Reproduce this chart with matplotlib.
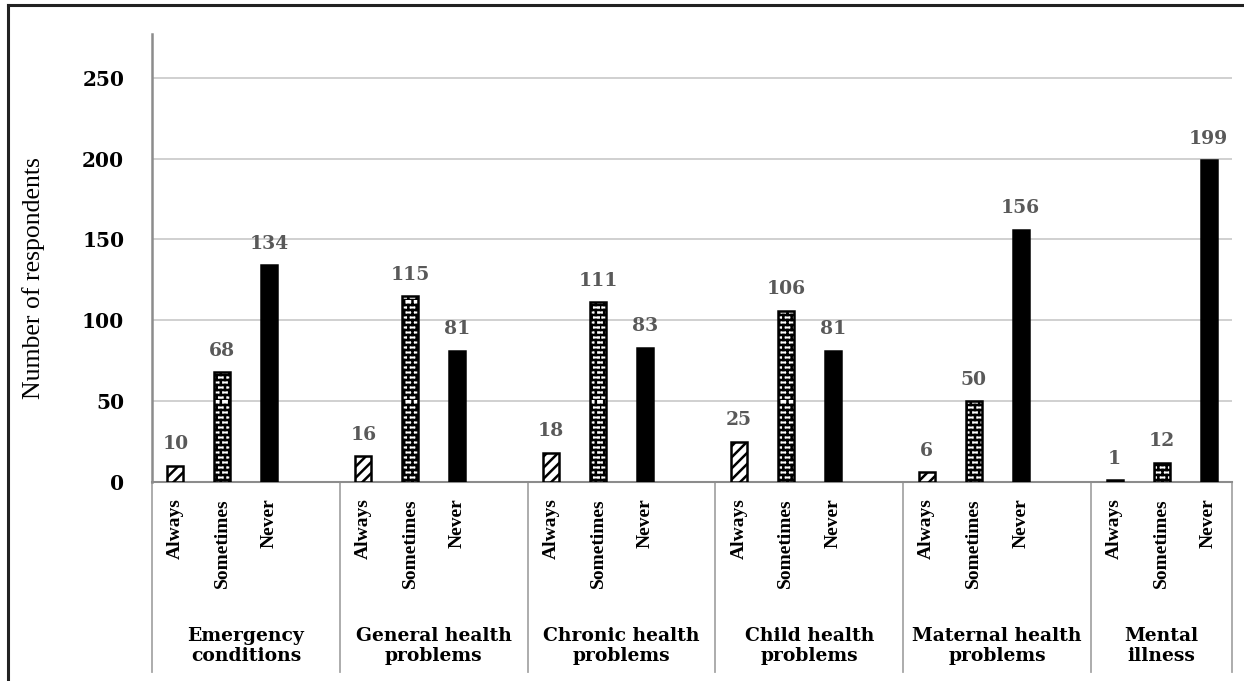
import matplotlib
matplotlib.use('Agg')
import matplotlib.pyplot as plt
import matplotlib.hatch as mhatch
from matplotlib.path import Path
from matplotlib.lines import Line2D
import numpy as np
import warnings

warnings.filterwarnings('ignore')
plt.rcParams['font.family'] = ['Liberation Serif', 'DejaVu Serif']
plt.rcParams['hatch.linewidth'] = 1.8


class BrickHatch(mhatch.HatchPatternBase):
    """Brick-wall fill, selected with the letter 'b'."""
    def __init__(self, hatch, density):
        n = hatch.count('b')
        self.rows = 20 * n
        self.cols = 12 * n
        self.num_vertices = (2 * self.rows + 2 * self.rows * self.cols) if n else 0

    def set_vertices_and_codes(self, vertices, codes):
        pts = []
        for i in range(self.rows):
            y0, y1 = i / self.rows, (i + 1) / self.rows
            pts += [(0, y0), (1, y0)]
            for j in range(self.cols):
                x = (j + 0.5 * (i % 2)) / self.cols
                pts += [(x, y0), (x, y1)]
        vertices[:] = np.array(pts)
        codes[0::2] = Path.MOVETO
        codes[1::2] = Path.LINETO


mhatch._hatch_types.append(BrickHatch)

groups = ['Emergency\nconditions', 'General health\nproblems', 'Chronic health\nproblems',
          'Child health\nproblems', 'Maternal health\nproblems', 'Mental\nillness']
answers = ['Always', 'Sometimes', 'Never']
always = [10, 16, 18, 25, 6, 1]
sometimes = [68, 115, 111, 106, 50, 12]
never = [134, 81, 83, 81, 156, 199]

W, H = 1244, 681
fig = plt.figure(figsize=(W / 100, H / 100), dpi=100)
ax = fig.add_axes([152 / W, 1 - 482 / H, (1232 - 152) / W, (482 - 34) / H])

# each group gets 3 bar slots plus one empty slot as a gap
n = len(groups)
styles = [dict(facecolor='white', edgecolor='black', hatch='///'),
          dict(facecolor='white', edgecolor='black', hatch='b'),
          dict(facecolor='black', edgecolor='black')]
for k, vals in enumerate([always, sometimes, never]):
    xs = [4 * g + k for g in range(n)]
    bars = ax.bar(xs, vals, width=0.34, linewidth=1.8, zorder=3, **styles[k])
    ax.bar_label(bars, padding=9, fontsize=13.5, fontweight='bold', color='#595959',
                 family='DejaVu Serif')

ax.set_xlim(-0.5, 4 * n - 1.5)
ax.set_ylim(0, 277)
ax.set_yticks([0, 50, 100, 150, 200, 250])
ax.tick_params(axis='y', length=0, pad=20)
for lab in ax.get_yticklabels():
    lab.set_fontweight('bold')
    lab.set_family('DejaVu Serif')
    lab.set_fontsize(14.5)
ax.set_xticks([])
ax.grid(axis='y', color='#c8c8c8', linewidth=1.2, zorder=0)
for s in ['top', 'right']:
    ax.spines[s].set_visible(False)
ax.spines['left'].set_color('#8c8c8c')
ax.spines['left'].set_linewidth(1.8)
ax.spines['bottom'].set_color('#8c8c8c')
ax.spines['bottom'].set_linewidth(1.5)
ax.set_ylabel('Number of respondents', fontsize=18.5)
ax.yaxis.set_label_coords((45 - 152) / 1080, (482 - 278) / 448)

# two-level category axis below the plot
trans = ax.get_xaxis_transform()
span = 482 - 34
seps = [-0.5] + [4 * g + 3.5 for g in range(n - 1)] + [4 * n - 1.5]
for x in seps:
    ax.add_line(Line2D([x, x], [0, -(672 - 482) / span], transform=trans,
                       color='#a6a6a6', linewidth=1.3, clip_on=False))
for g in range(n):
    for k, a in enumerate(answers):
        ax.text(4 * g + k, -(498 - 482) / span, a, transform=trans, rotation=90,
                ha='center', va='top', fontsize=14, fontweight='bold')
    # group name centred between its separators
    xc = (seps[g] + seps[g + 1]) / 2
    ax.text(xc, -(646 - 482) / span, groups[g], transform=trans,
            ha='center', va='center', fontsize=13.5, fontweight='bold',
            family='DejaVu Serif', linespacing=1.15)

# outer frame
fig.add_artist(Line2D([8 / W, 8 / W], [0, 1 - 5 / H], color='#222222', linewidth=2.2))
fig.add_artist(Line2D([8 / W, 1], [1 - 5 / H, 1 - 5 / H], color='#222222', linewidth=2.2))

fig.savefig('out.png', dpi=100, facecolor='white')
